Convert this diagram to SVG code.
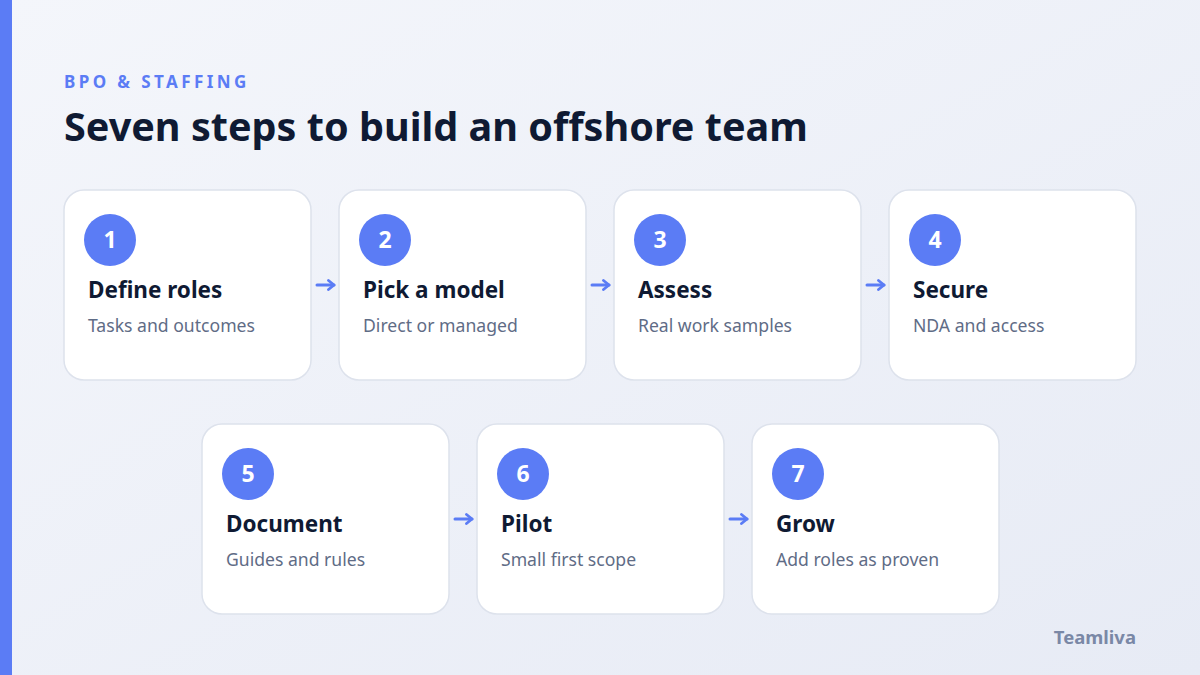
<svg xmlns="http://www.w3.org/2000/svg" width="1200" height="675" viewBox="0 0 1200 675">
<defs>
<linearGradient id="bg" x1="0" y1="0" x2="1" y2="1">
<stop offset="0" stop-color="#f4f6fb"/>
<stop offset="1" stop-color="#e7ebf5"/>
</linearGradient>
<marker id="ah" viewBox="0 0 10 12" refX="7" refY="6" markerWidth="10" markerHeight="12" markerUnits="userSpaceOnUse" orient="auto">
<path d="M1.5,1.5 L7,6 L1.5,10.5" fill="none" stroke="#5b7cf5" stroke-width="2.8" stroke-linecap="round" stroke-linejoin="round"/>
</marker>
<style>
.card{fill:#ffffff;stroke:#dde2ec;stroke-width:1.5}
.num{fill:#5b7cf5}
.numt{font-family:"Noto Sans","Liberation Sans",sans-serif;font-weight:700;font-size:23px;fill:#ffffff;text-anchor:middle}
.title{font-family:"Noto Sans","Liberation Sans",sans-serif;font-weight:700;font-size:22.5px;fill:#0f1a33}
.sub{font-family:"Noto Sans","Liberation Sans",sans-serif;font-size:17.6px;fill:#5f6c86}
.conn{stroke:#5b7cf5;stroke-width:3;fill:none;stroke-linecap:round;marker-end:url(#ah)}
</style>
</defs>
<rect width="1200" height="675" fill="url(#bg)"/>
<rect x="0" y="0" width="12" height="675" fill="#5b7cf5"/>
<text x="64" y="88" font-family="Noto Sans, Liberation Sans, sans-serif" font-weight="700" font-size="17" letter-spacing="3.4" fill="#5b7cf5">BPO &amp; STAFFING</text>
<text x="64" y="141" font-family="Noto Sans, Liberation Sans, sans-serif" font-weight="700" font-size="39.6" fill="#0f1a33">Seven steps to build an offshore team</text>

<g id="connectors">
<line class="conn" x1="317" y1="285" x2="334" y2="285"/>
<line class="conn" x1="592" y1="285" x2="609" y2="285"/>
<line class="conn" x1="867" y1="285" x2="884" y2="285"/>
<line class="conn" x1="455" y1="519" x2="472" y2="519"/>
<line class="conn" x1="730" y1="519" x2="747" y2="519"/>
</g>

<g id="step1">
<rect class="card" x="64" y="190" width="247" height="190" rx="20"/>
<circle class="num" cx="110" cy="240" r="26"/>
<text class="numt" x="110" y="248">1</text>
<text class="title" x="88" y="298">Define roles</text>
<text class="sub" x="88" y="332">Tasks and outcomes</text>
</g>
<g id="step2">
<rect class="card" x="339" y="190" width="247" height="190" rx="20"/>
<circle class="num" cx="385" cy="240" r="26"/>
<text class="numt" x="385" y="248">2</text>
<text class="title" x="363" y="298">Pick a model</text>
<text class="sub" x="363" y="332">Direct or managed</text>
</g>
<g id="step3">
<rect class="card" x="614" y="190" width="247" height="190" rx="20"/>
<circle class="num" cx="660" cy="240" r="26"/>
<text class="numt" x="660" y="248">3</text>
<text class="title" x="638" y="298">Assess</text>
<text class="sub" x="638" y="332">Real work samples</text>
</g>
<g id="step4">
<rect class="card" x="889" y="190" width="247" height="190" rx="20"/>
<circle class="num" cx="935" cy="240" r="26"/>
<text class="numt" x="935" y="248">4</text>
<text class="title" x="913" y="298">Secure</text>
<text class="sub" x="913" y="332">NDA and access</text>
</g>
<g id="step5">
<rect class="card" x="202" y="424" width="247" height="190" rx="20"/>
<circle class="num" cx="248" cy="474" r="26"/>
<text class="numt" x="248" y="482">5</text>
<text class="title" x="226" y="532">Document</text>
<text class="sub" x="226" y="566">Guides and rules</text>
</g>
<g id="step6">
<rect class="card" x="477" y="424" width="247" height="190" rx="20"/>
<circle class="num" cx="523" cy="474" r="26"/>
<text class="numt" x="523" y="482">6</text>
<text class="title" x="501" y="532">Pilot</text>
<text class="sub" x="501" y="566">Small first scope</text>
</g>
<g id="step7">
<rect class="card" x="752" y="424" width="247" height="190" rx="20"/>
<circle class="num" cx="798" cy="474" r="26"/>
<text class="numt" x="798" y="482">7</text>
<text class="title" x="776" y="532">Grow</text>
<text class="sub" x="776" y="566">Add roles as proven</text>
</g>

<text x="1136" y="644" text-anchor="end" font-family="Noto Sans, Liberation Sans, sans-serif" font-weight="700" font-size="18.5" fill="#7a88a6">Teamliva</text>
</svg>
